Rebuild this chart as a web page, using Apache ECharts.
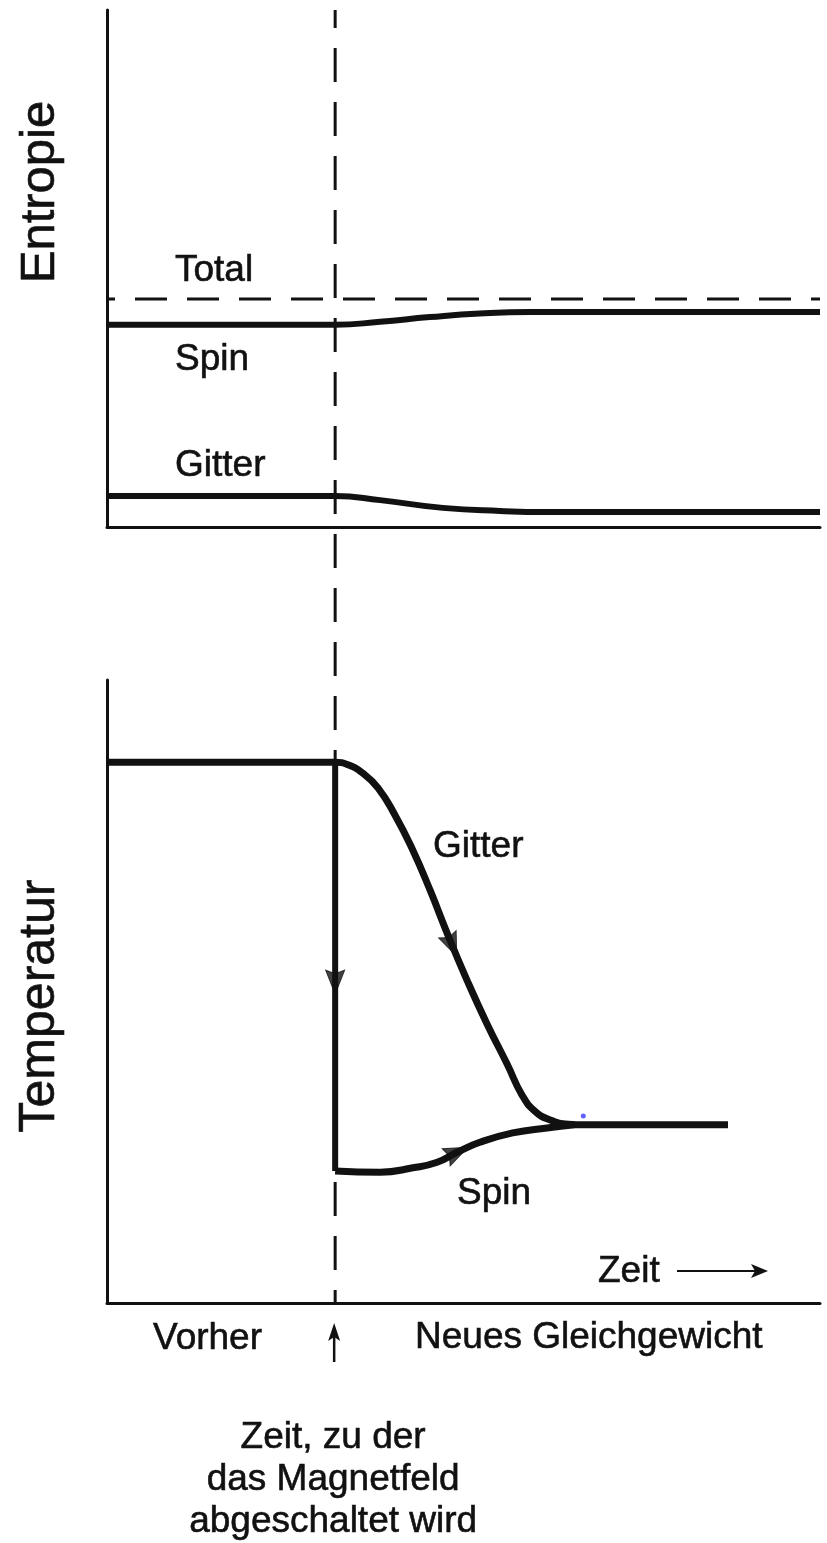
<!DOCTYPE html>
<html>
<head>
<meta charset="utf-8">
<script src="https://cdn.jsdelivr.net/npm/echarts@6/dist/echarts.min.js"></script>
<style>
  html, body { margin: 0; padding: 0; background: #ffffff; }
  #chart { width: 827px; height: 1543px; }
</style>
</head>
<body>
<div id="chart"></div>
<script>
// ---- data (time in arbitrary units 0..100, values in arbitrary units 0..100) ----
const switchTime = 32;                       // Zeit, zu der das Magnetfeld abgeschaltet wird

// Entropie panel
const entropyTotal  = [[0, 44.1], [100, 44.1]];
const entropySpin   = [[0, 39.1], [32, 39.1], [38.3, 39.7], [45.3, 40.6], [52.3, 41.3], [59.3, 41.6], [100, 41.6]];
const entropyGitter = [[0, 6.0], [32, 6.0], [38.3, 5.2], [47.1, 3.7], [55.1, 3.1], [62.1, 2.9], [100, 2.9]];

// Temperatur panel
const tempGitter = [[0, 86.8], [32.0, 86.8], [33.8, 86.4], [35.8, 85.1], [38.0, 82.7], [40.4, 78.3], [42.8, 72.9],
                    [45.3, 66.3], [47.8, 59.1], [50.5, 51.8], [53.3, 44.8], [56.1, 38.4], [58.2, 33.4],
                    [60.0, 30.8], [62.1, 29.4], [64.7, 28.7], [67.0, 28.6], [87.1, 28.6]];
const tempSpinDrop    = [[32, 86.8], [32, 21.2]];
const tempSpinRecover = [[32, 21.2], [38.3, 21.0], [42.9, 21.7], [46.3, 22.6], [49.1, 24.2], [52.3, 25.8],
                         [56.9, 27.3], [61.7, 28.1], [65.6, 28.6]];

// arrowheads showing direction of change (position on curve)
const arrowPositions = [[32, 51.5], [48.4, 57.4], [49.1, 24.2]];
const strayDot = [[66.8, 30.0]];

// texts
const labelsEntropie = ['Total', 'Spin', 'Gitter'];
const labelsTemp = ['Gitter', 'Spin'];
const bottomCaption = ['Zeit, zu der', 'das Magnetfeld', 'abgeschaltet wird'];

// ---- styling ----
const INK = '#111111';
const FONT = '"Liberation Sans", Arial, Helvetica, sans-serif';
const FS = 37;
const arrowRotations = [180, -157, -65];
const arrowPath = 'path://M5,0 L10,20 L5,17 L0,20 Z';

const chart = echarts.init(document.getElementById('chart'), null, { renderer: 'canvas' });

const grids = [
  { left: 107, top: 10, width: 713, height: 517 },
  { left: 107, top: 680, width: 713, height: 623 }
];
function axisX(i) {
  return { type: 'value', gridIndex: i, min: 0, max: 100,
    axisLine: { show: true, onZero: false, lineStyle: { color: INK, width: 3 } },
    axisTick: { show: false }, axisLabel: { show: false }, splitLine: { show: false } };
}
function axisY(i) {
  return { type: 'value', gridIndex: i, min: 0, max: 100,
    axisLine: { show: true, onZero: false, lineStyle: { color: INK, width: 3 } },
    axisTick: { show: false }, axisLabel: { show: false }, splitLine: { show: false } };
}
// top of the switch-off line expressed in lower-panel value units (reaches top of the upper panel)
const spanTop = 100 * ((grids[1].top + grids[1].height) - grids[0].top) / grids[1].height;

function solid(name, gi, data, width, smooth) {
  return { name, type: 'line', xAxisIndex: gi, yAxisIndex: gi, data, symbol: 'none',
    smooth: smooth, lineStyle: { color: INK, width: width, cap: 'butt', join: 'round' }, z: 3 };
}

chart.setOption({
  animation: false,
  backgroundColor: '#ffffff',
  grid: grids,
  xAxis: [axisX(0), axisX(1)],
  yAxis: [axisY(0), axisY(1)],
  series: [
    { name: 'Zeitpunkt', type: 'line', xAxisIndex: 1, yAxisIndex: 1, clip: false, symbol: 'none',
      data: [[switchTime, spanTop], [switchTime, 0]],
      lineStyle: { color: INK, width: 3, type: [34, 20], dashOffset: 16 }, z: 2 },
    { name: 'Total', type: 'line', xAxisIndex: 0, yAxisIndex: 0, data: entropyTotal, symbol: 'none',
      lineStyle: { color: INK, width: 3, type: [32, 20], dashOffset: 24 }, z: 2 },
    solid('Spin S', 0, entropySpin, 6, 0.5),
    solid('Gitter S', 0, entropyGitter, 6, 0.5),
    solid('Gitter T', 1, tempGitter, 7, 0.5),
    solid('Spin T drop', 1, tempSpinDrop, 6, false),
    solid('Spin T', 1, tempSpinRecover, 7, 0.5),
    { name: 'Pfeile', type: 'scatter', xAxisIndex: 1, yAxisIndex: 1, symbol: arrowPath, symbolSize: [19, 24],
      data: arrowPositions.map((p, i) => ({ value: p, symbolRotate: arrowRotations[i] })),
      itemStyle: { color: INK, borderColor: INK, borderWidth: 1 }, z: 5 },
    { name: 'Punkt', type: 'scatter', xAxisIndex: 1, yAxisIndex: 1, data: strayDot, symbolSize: 5,
      itemStyle: { color: '#3a3aff' }, z: 6 }
  ]
});

// ---- annotations ----
const sx = chart.convertToPixel({ gridIndex: 1 }, [switchTime, 0])[0];
function txt(t, x, y, align, size) {
  return { type: 'text', x, y, silent: true,
    style: { text: t, fill: INK, stroke: INK, lineWidth: 0.6, font: (size || FS) + 'px ' + FONT,
             align: align || 'left', verticalAlign: 'middle' } };
}
const g = [
  { type: 'text', x: 40, y: 192, rotation: Math.PI / 2, silent: true,
    style: { text: 'Entropie', fill: INK, stroke: INK, lineWidth: 0.6, font: '49px ' + FONT, align: 'center', verticalAlign: 'middle' } },
  { type: 'text', x: 40, y: 1006, rotation: Math.PI / 2, silent: true,
    style: { text: 'Temperatur', fill: INK, stroke: INK, lineWidth: 0.6, font: '50px ' + FONT, align: 'center', verticalAlign: 'middle' } },
  txt(labelsEntropie[0], 175, 271),
  txt(labelsEntropie[1], 175, 360),
  txt(labelsEntropie[2], 175, 466),
  txt(labelsTemp[0], 433, 847),
  txt(labelsTemp[1], 457, 1194),
  txt('Zeit', 598, 1272),
  { type: 'line', silent: true, shape: { x1: 677, y1: 1271, x2: 760, y2: 1271 }, style: { stroke: INK, lineWidth: 2 } },
  { type: 'polygon', silent: true, shape: { points: [[768, 1271], [751, 1264], [755, 1271], [751, 1278]] }, style: { fill: INK } },
  txt('Vorher', 153, 1339),
  txt('Neues Gleichgewicht', 415, 1338),
  { type: 'line', silent: true, shape: { x1: sx - 1, y1: 1334, x2: sx - 1, y2: 1362 }, style: { stroke: INK, lineWidth: 2.5 } },
  { type: 'polygon', silent: true, shape: { points: [[sx - 1, 1323], [sx - 7, 1341], [sx - 1, 1337], [sx + 5, 1341]] }, style: { fill: INK } }
];
bottomCaption.forEach((t, i) => g.push(txt(t, sx - 2, 1438 + i * 42, 'center')));
chart.setOption({ graphic: g });
</script>
</body>
</html>
